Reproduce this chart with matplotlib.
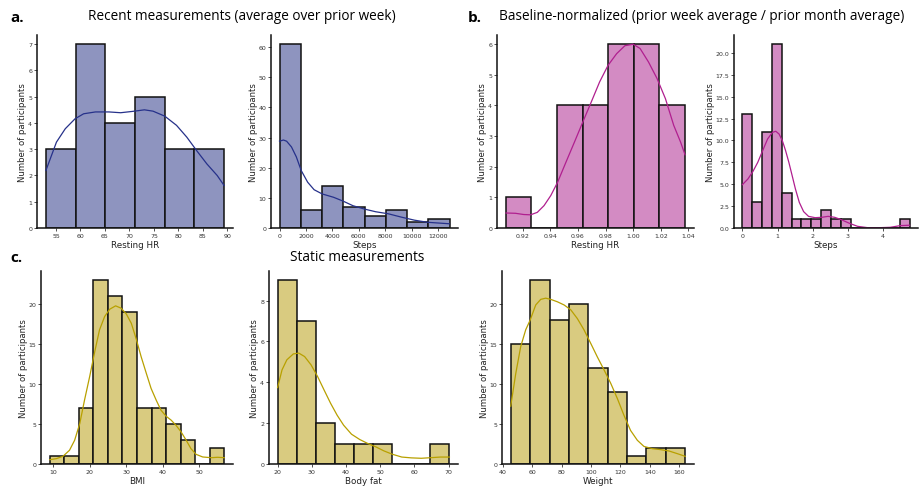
import numpy as np
import matplotlib
matplotlib.use("Agg")
import matplotlib.pyplot as plt

# ---------------- data ----------------
a1_edges = [52.95, 59.01, 65.07, 71.13, 77.19, 83.25, 89.31]
a1_counts = [3, 7, 4, 5, 3, 3]
a1_kde_x = [52.95, 55.1, 56.9, 58.9, 60.65, 63.06, 65.8, 68.2, 70.6, 73.05, 74.8, 77.2,
            79.6, 81.7, 83.7, 85.8, 87.9, 89.31]
a1_kde_y = [2.19, 3.27, 3.78, 4.16, 4.35, 4.42, 4.42, 4.39, 4.44, 4.50, 4.45, 4.26,
            3.91, 3.46, 2.95, 2.44, 2.00, 1.62]

a2_edges = [0, 1609, 3218, 4826, 6435, 8044, 9653, 11261, 12870]
a2_counts = [61, 6, 14, 7, 4, 6, 2, 3]
a2_kde_x = [0, 294, 539, 906, 1274, 1641, 2131, 2621, 3233, 4090, 4825, 5560, 6417,
            7274, 8254, 9233, 10213, 11193, 12870]
a2_kde_y = [28.8, 29.2, 28.8, 26.9, 23.6, 19.1, 15.2, 12.7, 11.3, 10.2, 8.9, 7.4, 6.3,
            5.4, 4.7, 3.6, 2.6, 1.9, 1.4]

b1_edges = [0.9078, 0.9263, 0.9449, 0.9634, 0.9820, 1.0005, 1.0190, 1.0376]
b1_counts = [1, 0, 4, 4, 6, 6, 4]
b1_kde_x = [0.9078, 0.9147, 0.9207, 0.9256, 0.9305, 0.9354, 0.9403, 0.9452, 0.9513,
            0.9574, 0.9635, 0.9696, 0.9757, 0.9818, 0.9880, 0.9940, 1.0000, 1.0050,
            1.0111, 1.0173, 1.0234, 1.0294, 1.0344, 1.0376]
b1_kde_y = [0.49, 0.48, 0.44, 0.43, 0.51, 0.73, 1.06, 1.49, 2.15, 2.80, 3.46, 4.11,
            4.77, 5.31, 5.69, 5.95, 6.00, 5.86, 5.42, 4.88, 4.22, 3.35, 2.80, 2.39]

b2_edges = [0.0, 0.28, 0.56, 0.84, 1.12, 1.40, 1.68, 1.96, 2.24, 2.52, 2.80, 3.08,
            3.36, 3.64, 3.92, 4.20, 4.48, 4.76]
b2_counts = [13, 3, 11, 21, 4, 1, 1, 1, 2, 1, 1, 0, 0, 0, 0, 0, 1]
b2_kde_x = [0.0, 0.158, 0.298, 0.438, 0.578, 0.718, 0.857, 0.951, 1.044, 1.137, 1.23,
            1.323, 1.417, 1.51, 1.62, 1.743, 1.883, 2.07, 2.255, 2.44, 2.628, 2.815,
            3.05, 3.28, 3.56, 3.93, 4.21, 4.49, 4.76]
b2_kde_y = [4.95, 5.6, 6.44, 7.5, 8.84, 10.17, 10.93, 11.05, 10.74, 9.98, 8.84, 7.5,
            5.98, 4.46, 2.93, 1.87, 1.33, 1.18, 1.22, 1.33, 1.22, 0.95, 0.53, 0.19,
            0.04, 0.04, 0.08, 0.27, 0.32]

c1_edges = [9.09, 13.07, 17.04, 21.02, 25.00, 28.98, 32.95, 36.93, 40.91, 44.88,
            48.86, 52.84, 56.81]
c1_counts = [1, 1, 7, 23, 21, 19, 7, 7, 5, 3, 0, 2]
c1_kde_x = [9.09, 10.9, 12.7, 14.5, 15.9, 17.3, 18.6, 20.0, 21.4, 22.7, 24.1, 25.5,
            27.1, 28.6, 30.0, 31.4, 32.7, 34.1, 35.5, 36.8, 38.2, 39.5, 40.9, 42.3,
            43.6, 45.0, 46.4, 47.7, 49.1, 50.9, 53.2, 55.0, 56.81]
c1_kde_y = [0.54, 0.67, 0.96, 1.72, 2.97, 5.06, 7.99, 10.92, 14.06, 16.78, 18.45, 19.37,
            19.79, 19.5, 18.79, 17.6, 15.7, 13.4, 11.34, 9.46, 7.99, 6.74, 5.98, 5.48,
            4.85, 4.02, 2.97, 1.92, 1.21, 0.88, 0.79, 0.84, 0.79]

c2_edges = [20.0, 25.58, 31.16, 36.74, 42.32, 47.9, 53.48, 59.06, 64.64, 70.22]
c2_counts = [9, 7, 2, 1, 1, 1, 0, 0, 1]
c2_kde_x = [20.0, 21.3, 22.7, 24.6, 26.2, 27.9, 29.8, 31.7, 33.6, 35.5, 37.4, 39.3,
            41.6, 44.0, 46.4, 48.7, 51.1, 53.5, 56.3, 59.1, 62.0, 64.8, 67.6, 70.22]
c2_kde_y = [3.74, 4.61, 5.10, 5.39, 5.43, 5.26, 4.85, 4.28, 3.62, 2.97, 2.39, 1.90,
            1.46, 1.20, 1.00, 0.84, 0.64, 0.48, 0.34, 0.30, 0.28, 0.31, 0.34, 0.34]

c3_edges = [45.4, 58.59, 71.78, 84.97, 98.16, 111.35, 124.54, 137.73, 150.92, 164.11]
c3_counts = [15, 23, 18, 20, 12, 9, 1, 2, 2]
c3_kde_x = [45.4, 48.8, 52.2, 55.6, 58.6, 62.4, 65.8, 69.2, 72.6, 77.1, 81.7, 86.2,
            90.7, 95.2, 99.8, 104.3, 108.8, 113.4, 117.9, 122.4, 126.9, 131.5, 136.0,
            141.7, 147.3, 153.0, 158.6, 164.11]
c3_kde_y = [7.24, 11.3, 14.7, 16.8, 18.0, 19.9, 20.6, 20.75, 20.6, 20.3, 19.9, 19.3,
            18.2, 16.8, 15.1, 13.4, 11.8, 10.1, 8.2, 6.1, 4.2, 2.97, 2.2, 1.92, 1.8,
            1.63, 1.3, 0.96]

x_labels = ["Resting HR", "Steps", "Resting HR", "Steps", "BMI", "Body fat", "Weight"]
y_label = "Number of participants"

# ---------------- style ----------------
W, H = 919, 489
fig = plt.figure(figsize=(W / 100, H / 100), dpi=100)

def px_axes(x0, y0, x1, y1):
    return fig.add_axes([x0 / W, 1 - y1 / H, (x1 - x0) / W, (y1 - y0) / H])

blue_face, blue_line = "#8e94bf", "#26318a"
pink_face, pink_line = "#d38bc3", "#b01f8f"
gold_face, gold_line = "#d9cb80", "#b8a000"

panels = [
    (px_axes(37, 36, 233, 229), a1_edges, a1_counts, a1_kde_x, a1_kde_y, blue_face, blue_line,
     [55, 60, 65, 70, 75, 80, 85, 90], None, [0, 1, 2, 3, 4, 5, 6, 7], None),
    (px_axes(271, 36, 458, 229), a2_edges, a2_counts, a2_kde_x, a2_kde_y, blue_face, blue_line,
     [0, 2000, 4000, 6000, 8000, 10000, 12000], None, [0, 10, 20, 30, 40, 50, 60], None),
    (px_axes(497, 36, 694, 229), b1_edges, b1_counts, b1_kde_x, b1_kde_y, pink_face, pink_line,
     [0.92, 0.94, 0.96, 0.98, 1.00, 1.02, 1.04], "%.2f", [0, 1, 2, 3, 4, 5, 6], None),
    (px_axes(734, 36, 918, 229), b2_edges, b2_counts, b2_kde_x, b2_kde_y, pink_face, pink_line,
     [0, 1, 2, 3, 4], None, [0, 2.5, 5, 7.5, 10, 12.5, 15, 17.5, 20], "%.1f"),
    (px_axes(41, 272, 233, 465), c1_edges, c1_counts, c1_kde_x, c1_kde_y, gold_face, gold_line,
     [10, 20, 30, 40, 50], None, [0, 5, 10, 15, 20], None),
    (px_axes(269, 272, 458, 465), c2_edges, c2_counts, c2_kde_x, c2_kde_y, gold_face, gold_line,
     [20, 30, 40, 50, 60, 70], None, [0, 2, 4, 6, 8], None),
    (px_axes(502, 272, 694, 465), c3_edges, c3_counts, c3_kde_x, c3_kde_y, gold_face, gold_line,
     [40, 60, 80, 100, 120, 140, 160], None, [0, 5, 10, 15, 20], None),
]

for (ax, edges, counts, kx, ky, fc, lc, xt, xfmt, yt, yfmt), xl in zip(panels, x_labels):
    edges = np.asarray(edges, dtype=float)
    widths = np.diff(edges)
    ax.bar(edges[:-1], counts, width=widths, align="edge", color=fc,
           edgecolor="#111111", linewidth=1.1)
    ax.plot(kx, ky, color=lc, linewidth=0.9)
    for s in ("top", "right"):
        ax.spines[s].set_visible(False)
    for s in ("left", "bottom"):
        ax.spines[s].set_linewidth(1.1)
        ax.spines[s].set_color("#111111")
    ax.set_xticks(xt)
    ax.set_yticks(yt)
    if xfmt:
        ax.set_xticklabels([xfmt % v for v in xt])
    if yfmt:
        ax.set_yticklabels([yfmt % v for v in yt])
    ax.tick_params(labelsize=4.5, length=2, width=0.6, pad=1.5, colors="#333333")
    ax.set_xlabel(xl, fontsize=6.3, labelpad=1.5, color="#222222")
    ax.set_ylabel(y_label, fontsize=6.1, labelpad=0.5, color="#222222")
    ax.set_facecolor("none")

title_font = "Open Sans"
fig.text(10 / W, 1 - 18 / H, "a.", fontsize=11, fontweight="bold", family=title_font,
         va="center", ha="left")
fig.text(242 / W, 1 - 17 / H, "Recent measurements (average over prior week)", fontsize=9.8,
         family=title_font, va="center", ha="center")
fig.text(468 / W, 1 - 18 / H, "b.", fontsize=11, fontweight="bold", family=title_font,
         va="center", ha="left")
fig.text(702 / W, 1 - 17 / H, "Baseline-normalized (prior week average / prior month average)",
         fontsize=9.8, family=title_font, va="center", ha="center")
fig.text(10 / W, 1 - 258 / H, "c.", fontsize=11, fontweight="bold", family=title_font,
         va="center", ha="left")
fig.text(357 / W, 1 - 258 / H, "Static measurements", fontsize=9.8, family=title_font,
         va="center", ha="center")

fig.savefig("out.png", dpi=100)
